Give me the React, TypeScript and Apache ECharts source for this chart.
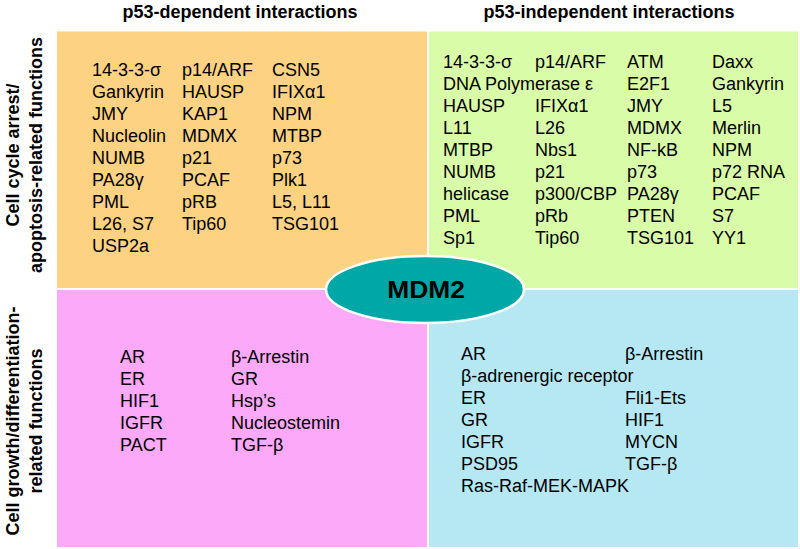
import React, { useEffect, useRef } from "react";
import * as echarts from "echarts";

// ---- text content ----
const columnTitles = ["p53-dependent interactions", "p53-independent interactions"];
const rowTitles = [
  "Cell cycle arrest/\napoptosis-related functions",
  "Cell growth/differentiation-\nrelated functions",
];
const centerLabel = "MDM2";

// p53-dependent, cell cycle arrest / apoptosis
const depApoCol1 = ["14-3-3-σ", "Gankyrin", "JMY", "Nucleolin", "NUMB", "PA28γ", "PML", "L26, S7", "USP2a"];
const depApoCol2 = ["p14/ARF", "HAUSP", "KAP1", "MDMX", "p21", "PCAF", "pRB", "Tip60"];
const depApoCol3 = ["CSN5", "IFIXα1", "NPM", "MTBP", "p73", "Plk1", "L5, L11", "TSG101"];

// p53-independent, cell cycle arrest / apoptosis
const indApoCol1 = ["14-3-3-σ", "DNA Polymerase ε", "HAUSP", "L11", "MTBP", "NUMB", "helicase", "PML", "Sp1"];
const indApoCol2 = ["p14/ARF", "", "IFIXα1", "L26", "Nbs1", "p21", "p300/CBP", "pRb", "Tip60"];
const indApoCol3 = ["ATM", "E2F1", "JMY", "MDMX", "NF-kB", "p73", "PA28γ", "PTEN", "TSG101"];
const indApoCol4 = ["Daxx", "Gankyrin", "L5", "Merlin", "NPM", "p72 RNA", "PCAF", "S7", "YY1"];

// p53-dependent, cell growth / differentiation
const depGroCol1 = ["AR", "ER", "HIF1", "IGFR", "PACT"];
const depGroCol2 = ["β-Arrestin", "GR", "Hsp’s", "Nucleostemin", "TGF-β"];

// p53-independent, cell growth / differentiation
const indGroCol1 = ["AR", "β-adrenergic receptor", "ER", "GR", "IGFR", "PSD95", "Ras-Raf-MEK-MAPK"];
const indGroCol2 = ["β-Arrestin", "", "Fli1-Ets", "HIF1", "MYCN", "TGF-β", ""];

// ---- layout & styles ----
const FONT = "'Liberation Sans', Arial, Helvetica, sans-serif";
const ROW_STEP = 22;

const quadrants = [
  { x: 57, y: 31.5, w: 370, h: 256.5, fill: "#FDD383", cols: [depApoCol1, depApoCol2, depApoCol3], colX: [92, 182, 272], y0: 70 },
  { x: 429, y: 31.5, w: 369, h: 256.5, fill: "#D9FCA9", cols: [indApoCol1, indApoCol2, indApoCol3, indApoCol4], colX: [443, 535, 627, 712], y0: 62.3 },
  { x: 57, y: 290, w: 370, h: 257, fill: "#FCA9F9", cols: [depGroCol1, depGroCol2], colX: [120, 231], y0: 356.7 },
  { x: 429, y: 290, w: 369, h: 257, fill: "#B5E8F3", cols: [indGroCol1, indGroCol2], colX: [461, 625], y0: 354.3 },
];

function buildGraphic() {
  const els: any[] = [];
  quadrants.forEach((q) => {
    els.push({
      type: "rect",
      shape: { x: q.x, y: q.y, width: q.w, height: q.h },
      style: { fill: q.fill },
    });
  });
  quadrants.forEach((q) => {
    q.cols.forEach((col, ci) => {
      col.forEach((txt, ri) => {
        if (!txt) return;
        els.push({
          type: "text",
          x: q.colX[ci],
          y: q.y0 + ri * ROW_STEP,
          style: {
            text: txt,
            fill: "#000",
            fontFamily: FONT,
            fontSize: 18,
            textAlign: "left",
            textVerticalAlign: "middle",
          },
        });
      });
    });
  });
  // column titles
  const titleX = [240, 609];
  columnTitles.forEach((t, i) => {
    els.push({
      type: "text",
      x: titleX[i],
      y: 12,
      style: {
        text: t,
        fill: "#000",
        fontFamily: FONT,
        fontSize: 18,
        fontWeight: "bold",
        textAlign: "center",
        textVerticalAlign: "middle",
      },
    });
  });
  // row titles (rotated)
  const rowY = [155, 421];
  rowTitles.forEach((t, i) => {
    els.push({
      type: "text",
      x: 24,
      y: rowY[i],
      rotation: Math.PI / 2,
      style: {
        text: t,
        fill: "#000",
        fontFamily: FONT,
        fontSize: 18,
        fontWeight: "bold",
        lineHeight: 23,
        textAlign: "center",
        textVerticalAlign: "middle",
      },
    });
  });
  // center ellipse
  els.push({
    type: "ellipse",
    shape: { cx: 425, cy: 289.5, rx: 99, ry: 33.5 },
    style: { fill: "#00A7A7", stroke: "#FFFFFF", lineWidth: 2.5 },
  });
  els.push({
    type: "text",
    x: 426,
    y: 289.5,
    scaleX: 1.1,
    style: {
      text: centerLabel,
      fill: "#000",
      fontFamily: FONT,
      fontSize: 24,
      fontWeight: "bold",
      textAlign: "center",
      textVerticalAlign: "middle",
    },
  });
  return els;
}

export default function App() {
  const ref = useRef<HTMLDivElement>(null);
  useEffect(() => {
    if (!ref.current) return;
    const chart = echarts.init(ref.current, undefined, { renderer: "svg" });
    chart.setOption({
      animation: false,
      backgroundColor: "#FFFFFF",
      graphic: buildGraphic(),
    });
    return () => chart.dispose();
  }, []);
  return (
    <div
      ref={ref}
      style={{ position: "fixed", left: 0, top: 0, width: 800, height: 549, background: "#fff" }}
    />
  );
}
